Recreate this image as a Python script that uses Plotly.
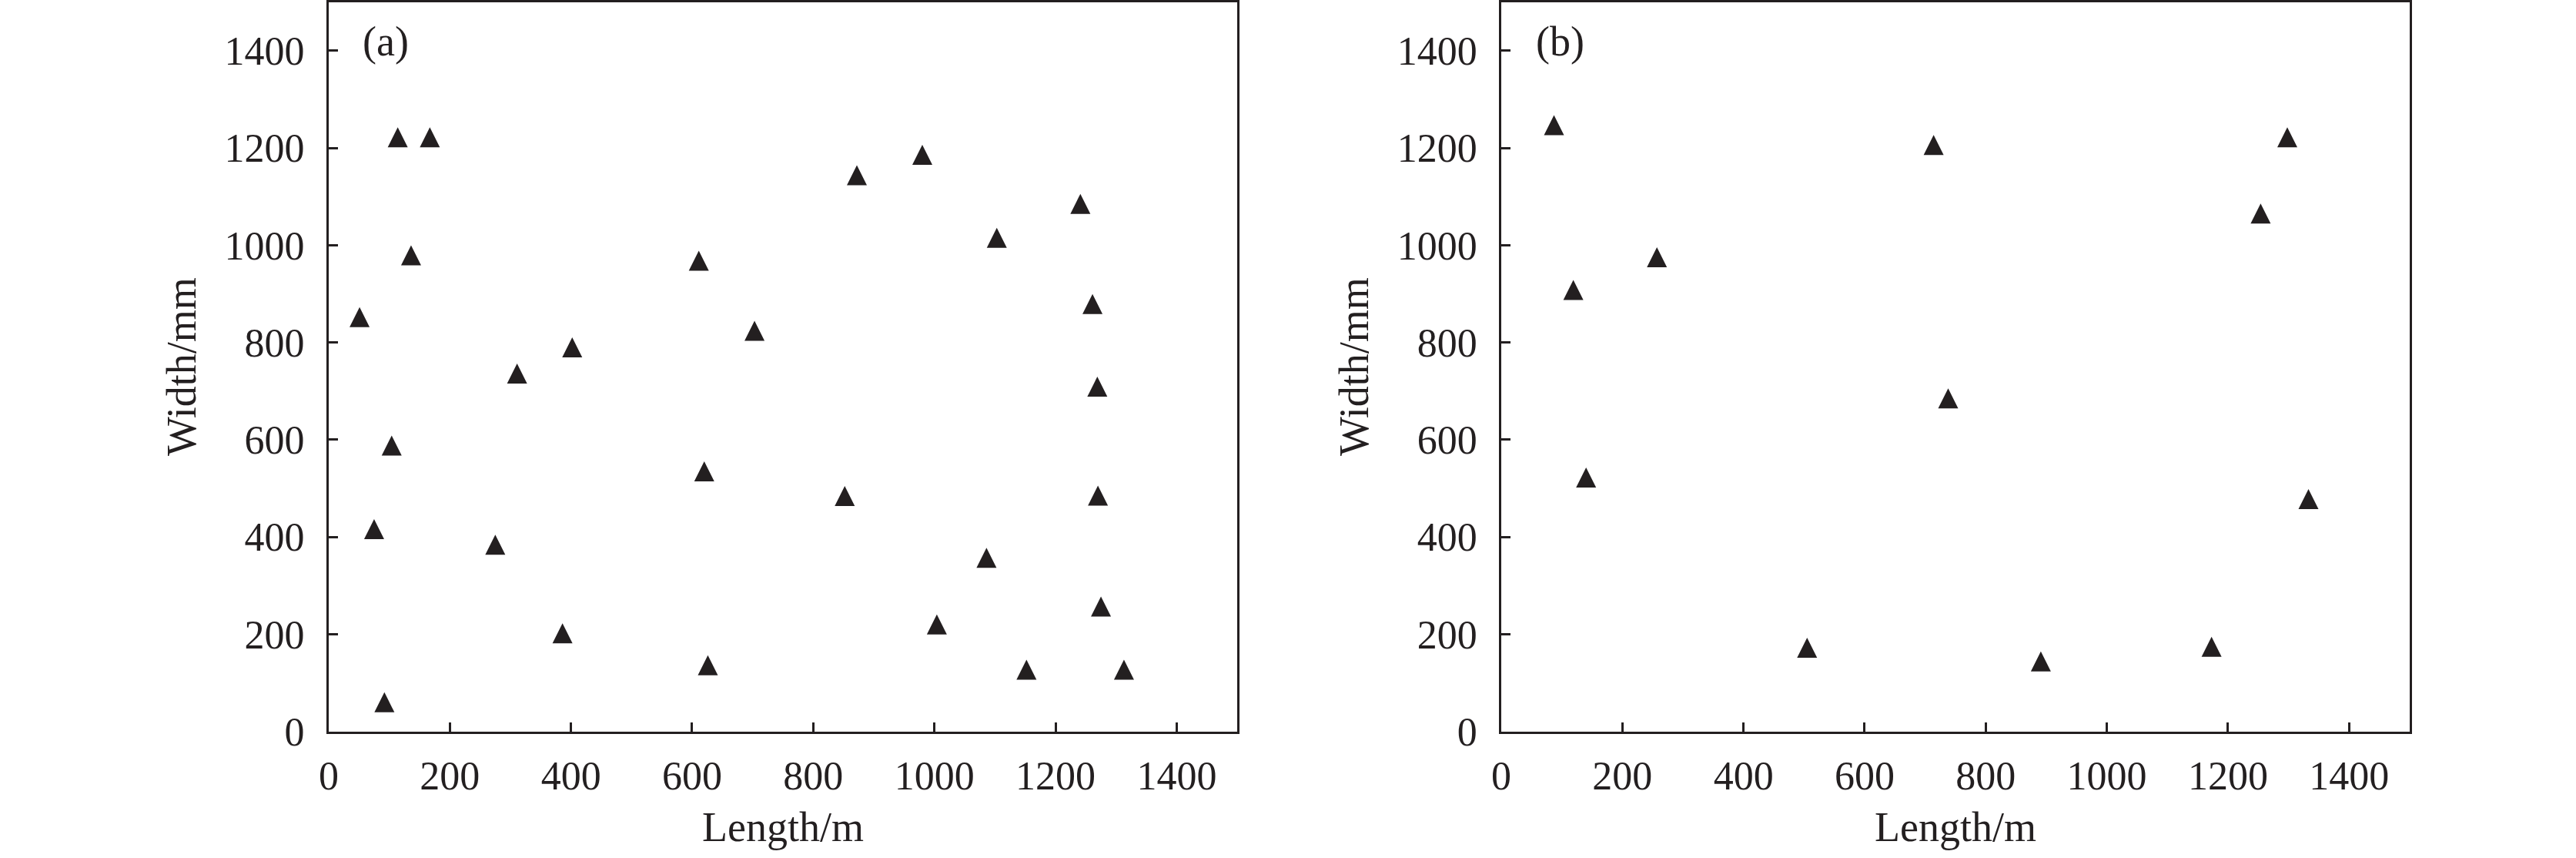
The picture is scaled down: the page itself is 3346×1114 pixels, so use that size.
import plotly.graph_objects as go

# panel (a) - monitoring points
len_a = [114, 167, 980, 872, 1241, 1103, 136, 611, 51, 1261, 703, 402, 311, 1269,
         104, 620, 852, 1270, 75, 275, 1086, 1275, 1004, 386, 626, 1152, 1313, 92]
wid_a = [1222, 1222, 1186, 1144, 1085, 1015, 979, 968, 852, 879, 824, 790, 736, 709,
         588, 535, 484, 485, 416, 384, 357, 257, 220, 202, 136, 127, 127, 60]

# panel (b)
len_b = [87, 714, 1298, 1254, 257, 119, 738, 140, 1333, 505, 891, 1173]
wid_b = [1247, 1206, 1222, 1065, 975, 908, 685, 522, 478, 172, 144, 174]

tick_vals = [0, 200, 400, 600, 800, 1000, 1200, 1400]
panel_tags = ['(a)', '(b)']

ink = '#231f20'
font_family = 'Liberation Serif, Times New Roman, serif'

# arrow-down turned 180deg and pushed back by half its size gives an
# upright, roughly equilateral triangle centred on the point
tri_size = 26
tri = dict(symbol='arrow-down', angle=180, standoff=tri_size / 2,
           size=tri_size, color=ink, line=dict(width=0))

fig = go.Figure()
fig.add_trace(go.Scatter(x=len_a, y=wid_a, mode='markers', xaxis='x', yaxis='y', marker=tri))
fig.add_trace(go.Scatter(x=len_b, y=wid_b, mode='markers', xaxis='x2', yaxis='y2', marker=tri))

axis_common = dict(
    range=[0, 1500],
    tickvals=tick_vals,
    ticks='inside',
    ticklen=12,
    tickwidth=3,
    tickcolor=ink,
    showline=True,
    linewidth=3,
    linecolor=ink,
    mirror=True,
    showgrid=False,
    zeroline=False,
    automargin=False,
    tickfont=dict(family=font_family, size=52, color=ink),
)

fig.update_layout(
    template='none',
    width=3346,
    height=1114,
    margin=dict(l=0, r=0, t=0, b=0),
    paper_bgcolor='white',
    plot_bgcolor='white',
    showlegend=False,
    font=dict(family=font_family, color=ink),
    xaxis=dict(axis_common, domain=[0.1276, 0.4803], anchor='y',
               ticklabelstandoff=10,
               title=dict(text='Length/m', font=dict(size=54), standoff=20)),
    yaxis=dict(axis_common, domain=[0.1475, 0.9976], anchor='x',
               ticklabelstandoff=18,
               title=dict(text='Width/mm', font=dict(size=54), standoff=20)),
    xaxis2=dict(axis_common, domain=[0.5828, 0.9354], anchor='y2',
                ticklabelstandoff=10,
                title=dict(text='Length/m', font=dict(size=54), standoff=20)),
    yaxis2=dict(axis_common, domain=[0.1475, 0.9976], anchor='x2',
                ticklabelstandoff=18,
                title=dict(text='Width/mm', font=dict(size=54), standoff=20)),
)

for i, tag in enumerate(panel_tags):
    sfx = '' if i == 0 else str(i + 1)
    fig.add_annotation(text=tag, xref='x' + sfx + ' domain', yref='y' + sfx + ' domain',
                       x=0.036, y=0.946, xanchor='left', yanchor='middle',
                       showarrow=False, font=dict(family=font_family, size=54, color=ink))

# drop the browser's default body margin so the figure sits at 0,0
fig.write_html('out.html', config={'displayModeBar': False},
               post_script="document.body.style.margin='0';")
